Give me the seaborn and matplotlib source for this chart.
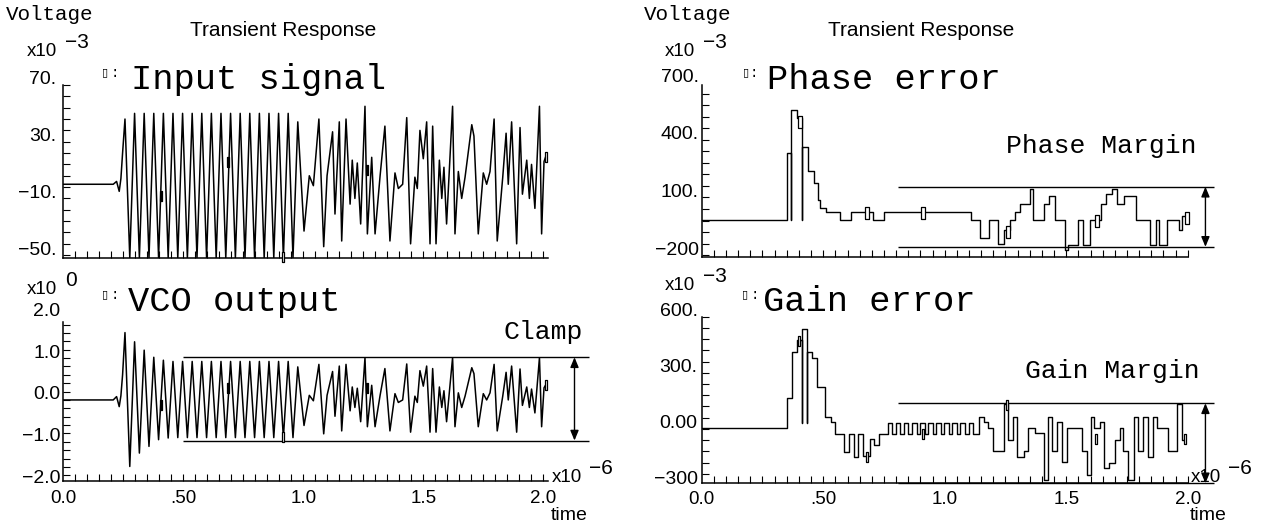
import matplotlib
matplotlib.use("Agg")
import matplotlib.pyplot as plt
import numpy as np
import seaborn as sns

# ---------------------------------------------------------------
# Values. Time in microseconds.
# ---------------------------------------------------------------

# flat part before the loop starts
lead_t = [0.0, 0.208, 0.222, 0.233, 0.240, 0.247]
input_lead = [0, 0, 2, -5, 4, 22]                  # x1e-3 V
vco_lead = [0.0, 0.0, 0.08, -0.16, 0.10, 0.60]     # V

# regular oscillation, alternating peak / trough
osc_t = [0.257, 0.277, 0.297, 0.317, 0.337, 0.357, 0.377, 0.397, 0.417, 0.437,
         0.457, 0.477, 0.497, 0.517, 0.537, 0.557, 0.577, 0.597, 0.617, 0.637,
         0.657, 0.677, 0.697, 0.717, 0.737, 0.757, 0.777, 0.797, 0.817, 0.837,
         0.857, 0.877, 0.897, 0.917, 0.937, 0.957, 0.977]
input_osc = [46, -52, 50, -52, 50, -52, 50, -52, 50, -52,
             50, -52, 50, -52, 50, -52, 50, -52, 50, -52,
             50, -52, 50, -52, 50, -52, 50, -52, 50, -52,
             50, -52, 50, -52, 50, -52, 44]
vco_osc = [1.61, -1.59, 1.39, -1.27, 1.19, -1.11, 1.02, -0.95, 0.95, -0.91,
           0.92, -0.90, 0.92, -0.90, 0.92, -0.90, 0.92, -0.90, 0.92, -0.90,
           0.92, -0.90, 0.92, -0.90, 0.92, -0.90, 0.92, -0.90, 0.92, -0.90,
           0.92, -0.90, 0.92, -0.90, 0.92, -0.90, 0.79]

# irregular part (extremes)
tail_t = [1.003, 1.025, 1.042, 1.065, 1.085, 1.099, 1.122, 1.132, 1.150, 1.160,
          1.178, 1.195, 1.204, 1.215, 1.225, 1.239, 1.257, 1.267, 1.285, 1.299,
          1.320, 1.340, 1.361, 1.382, 1.396, 1.414, 1.431, 1.447, 1.465, 1.475,
          1.486, 1.500, 1.514, 1.528, 1.539, 1.553, 1.567, 1.577, 1.586, 1.597,
          1.622, 1.632, 1.646, 1.660, 1.674, 1.702, 1.711, 1.729, 1.750, 1.764,
          1.778, 1.795, 1.808, 1.831, 1.845, 1.854, 1.868, 1.889, 1.903, 1.913,
          1.931, 1.942, 1.951, 1.965, 1.984, 1.993, 2.003, 2.011]
input_tail = [-33, 6, -1, 46, -44, 6, 37, -21, 44, -40,
              46, -14, 17, -10, 15, -28, 55, -35, 19, -35,
              6, 41, -40, 8, -3, 0, 47, -42, 5, -3,
              38, 18, 44, -42, 41, -42, 17, -10, 12, -28,
              55, -35, 9, -10, 5, 42, 34, -35, 8, 0,
              9, 46, -40, 5, 36, 0, 44, -42, 40, -7,
              17, -10, 14, -17, 55, -35, 16, 20]
vco_tail = [-0.61, 0.11, -0.02, 0.85, -0.81, 0.11, 0.68, -0.39, 0.81, -0.74,
            0.85, -0.26, 0.31, -0.18, 0.28, -0.52, 1.01, -0.64, 0.35, -0.64,
            0.11, 0.75, -0.74, 0.15, -0.06, 0.00, 0.86, -0.77, 0.09, -0.06,
            0.70, 0.33, 0.81, -0.77, 0.75, -0.77, 0.31, -0.18, 0.22, -0.52,
            1.01, -0.64, 0.17, -0.18, 0.09, 0.77, 0.63, -0.64, 0.15, 0.00,
            0.17, 0.85, -0.74, 0.09, 0.66, 0.00, 0.81, -0.77, 0.74, -0.13,
            0.31, -0.18, 0.26, -0.31, 1.01, -0.64, 0.29, 0.37]

# trace markers
input_mark_fill = ([0.406, 0.685, 1.264], [-8, 16, 10])
input_mark_open = ([0.915, 2.011], [-51, 19])
vco_mark_fill = ([0.406, 0.685, 1.264], [-0.12, 0.29, 0.29])
vco_mark_open = ([0.917, 2.011], [-0.88, 0.36])

# phase error, step levels (x1e-3), each level starts at phase_t
phase_t = [0.0, 0.349, 0.369, 0.369, 0.391, 0.411, 0.411, 0.436, 0.462, 0.478,
           0.487, 0.512, 0.571, 0.613, 0.705, 0.752, 1.108, 1.145, 1.183, 1.220,
           1.245, 1.267, 1.289, 1.309, 1.351, 1.365, 1.410, 1.430, 1.452, 1.494,
           1.507, 1.548, 1.569, 1.598, 1.645, 1.665, 1.687, 1.709, 1.737, 1.788,
           1.846, 1.871, 1.880, 1.913, 1.964, 1.977, 1.997]
phase_v = [-18, 333, -18, 556, 512, -18, 364, 239, 173, 87,
           43, 22, -18, 22, -18, 22, -18, -113, -18, -143,
           -70, -18, 22, 66, 142, -18, 66, 107, -18, -174,
           -148, -18, -148, -18, 66, 116, 142, 66, 107, -18,
           -148, -18, -148, -18, -70, 3, 3]
phase_mark = ([0.403, 0.680, 0.911, 1.259, 1.625, 1.997], [495, 17, 17, -78, -21, -9])

# gain error, step levels (x1e-3)
gain_t = [0.0, 0.350, 0.370, 0.391, 0.411, 0.411, 0.432, 0.432, 0.453, 0.473,
          0.507, 0.532, 0.549, 0.587, 0.606, 0.627, 0.644, 0.665, 0.692, 0.710,
          0.731,
          0.768, 0.785, 0.801, 0.818, 0.834, 0.851, 0.867, 0.884, 0.900, 0.917,
          0.933, 0.950, 0.966, 0.983, 0.999, 1.016, 1.032, 1.049, 1.065, 1.082,
          1.098, 1.115,
          1.142, 1.162, 1.180, 1.200, 1.244, 1.262, 1.280, 1.299, 1.326, 1.344,
          1.371, 1.409, 1.426, 1.440, 1.463, 1.481, 1.502, 1.563, 1.584, 1.601,
          1.614, 1.639, 1.657, 1.677, 1.701, 1.721, 1.735, 1.756, 1.779, 1.797,
          1.817, 1.838, 1.858, 1.875, 1.920, 1.957, 1.975, 1.989]
gain_v = [7, 164, 413, 475, 30, 532, 30, 413, 377, 226,
          66, 39, -27, -122, -27, -148, -27, -145, -56, -86,
          -27,
          30, -25, 30, -25, 30, -25, 30, -25, 30, -25,
          30, -25, 30, -25, 30, -25, 30, -25, 30, -25,
          30, -25,
          62, 39, 3, -116, 133, -59, 62, -148, -116, 3,
          -24, -273, 62, -116, 39, -175, 3, -116, -246, 62,
          3, 39, -211, -180, -59, 3, -116, -273, 62, -116,
          62, -148, 62, 3, -116, 133, -59, -59]
gain_mark = ([0.402, 0.679, 0.912, 1.255, 1.621, 1.989], [472, -149, -27, 128, -56, -56])

# limit bands: (start, end, upper, lower, arrow position)
clamp = (0.50, 2.19, 1.02, -0.97, 2.13)
phase_margin = (0.809, 2.11, 156, -157, 2.073)
gain_margin = (0.809, 2.11, 137, -291, 2.073)

# ---------------------------------------------------------------

W, H = 1265, 531
MONO = "Liberation Mono"
SANS = "Liberation Sans"
RECT = [(-0.3, -1), (0.3, -1), (0.3, 1), (-0.3, 1), (-0.3, -1)]

sns.set_style("ticks")
plt.rcParams["font.family"] = [SANS, "DejaVu Sans"]
plt.rcParams.update({"text.color": "black", "axes.edgecolor": "black",
                     "xtick.color": "black", "ytick.color": "black"})


def rect(left, top, right, bottom):
    return [left / W, 1 - bottom / H, (right - left) / W, (bottom - top) / H]


def ftext(fig, x, y, s, **kw):
    fig.text(x / W, 1 - y / H, s, color="black", **kw)


def style_axes(ax, xlim, ylim, yticks):
    ax.set_xlim(*xlim)
    ax.set_ylim(*ylim)
    for side in ["top", "right"]:
        ax.spines[side].set_visible(False)
    for side in ["left", "bottom"]:
        ax.spines[side].set_linewidth(1.1)
        ax.spines[side].set_color("black")
    ax.set_xticks(np.arange(0.05, 2.001, 0.05))
    ax.set_yticks(yticks)
    ax.tick_params(direction="in", length=5, width=0.8, color="black",
                   labelbottom=False, labelleft=False)
    ax.set_xlabel("")
    ax.set_ylabel("")
    ax.patch.set_alpha(0)


def ylabels(ax, vals, texts, dx):
    for v, s in zip(vals, texts):
        ax.annotate(s, xy=(0, v), xycoords=("axes fraction", "data"),
                    xytext=(dx, 5), textcoords="offset pixels",
                    ha="right", va="center", fontsize=14, family=SANS,
                    color="black", annotation_clip=False)


def xlabels(ax, dy):
    for t, s in zip([0.0, 0.5, 1.0, 1.5, 2.0], ["0.0", ".50", "1.0", "1.5", "2.0"]):
        ax.annotate(s, xy=(t, 0), xycoords=("data", "axes fraction"),
                    xytext=(0, dy), textcoords="offset pixels",
                    ha="center", va="center", fontsize=13.5, family=SANS,
                    color="black", annotation_clip=False)


def band(ax, spec):
    t0, t1, hi, lo, ta = spec
    ax.hlines([hi, lo], t0, t1, colors="black", lw=1.0, clip_on=False)
    ax.annotate("", xy=(ta, hi), xytext=(ta, lo), xycoords="data",
                arrowprops=dict(arrowstyle="<|-|>,head_length=0.6,head_width=0.25",
                                color="black", lw=1.0, shrinkA=0, shrinkB=0),
                annotation_clip=False)


def marks(ax, pts, filled, ms=7):
    ax.plot(pts[0], pts[1], linestyle="none", marker=RECT, ms=ms,
            mfc="black" if filled else "white", mec="black", mew=0.9,
            clip_on=False, zorder=5)


fig = plt.figure(figsize=(W / 100, H / 100), dpi=100)
fig.patch.set_facecolor("white")

ax_in = fig.add_axes(rect(63.3, 85, 548.1, 258))
ax_vco = fig.add_axes(rect(63.3, 321.7, 548.1, 480.7))
ax_ph = fig.add_axes(rect(701.7, 85, 1187.7, 257))
ax_gn = fig.add_axes(rect(701.7, 316.7, 1187.7, 483.3))

# traces
sns.lineplot(x=lead_t + osc_t + tail_t, y=input_lead + input_osc + input_tail,
             ax=ax_in, color="black", lw=1.1, sort=False, estimator=None)
sns.lineplot(x=lead_t + osc_t + tail_t, y=vco_lead + vco_osc + vco_tail,
             ax=ax_vco, color="black", lw=1.1, sort=False, estimator=None)
sns.lineplot(x=phase_t, y=phase_v, ax=ax_ph, color="black", lw=1.0,
             sort=False, estimator=None, drawstyle="steps-post")
sns.lineplot(x=gain_t, y=gain_v, ax=ax_gn, color="black", lw=1.0,
             sort=False, estimator=None, drawstyle="steps-post")

style_axes(ax_in, (0, 2.02), (-52, 70), np.arange(-50, 71, 8))
style_axes(ax_vco, (0, 2.02), (-1.93, 1.87), np.arange(-1.8, 1.81, 0.2))
style_axes(ax_ph, (0, 2.0), (-210, 686), np.arange(-200, 686, 60))
style_axes(ax_gn, (0, 2.0), (-291, 600), np.arange(-240, 601, 60))

marks(ax_in, input_mark_fill, True)
marks(ax_in, input_mark_open, False)
marks(ax_vco, vco_mark_fill, True)
marks(ax_vco, vco_mark_open, False)
marks(ax_ph, phase_mark, False, ms=9)
marks(ax_gn, gain_mark, False, ms=7)

band(ax_vco, clamp)
band(ax_ph, phase_margin)
band(ax_gn, gain_margin)

ylabels(ax_in, [70, 30, -10, -50], ["70.", "30.", "\u221210.", "\u221250."], -7)
ylabels(ax_vco, [2, 1, 0, -1, -2], ["2.0", "1.0", "0.0", "\u22121.0", "\u22122.0"], -3)
ylabels(ax_ph, [700, 400, 100, -200], ["700.", "400.", "100.", "\u2212200"], -3)
ylabels(ax_gn, [600, 300, 0, -300], ["600.", "300.", "0.00", "\u2212300"], -4)
xlabels(ax_vco, -18)
xlabels(ax_gn, -16)

# headers
for dx in (0, 638):
    ftext(fig, 6 + dx, 14, "Voltage", family=MONO, fontsize=15, va="center")
    ftext(fig, 283 + dx, 30, "Transient Response", family=SANS, fontsize=15,
          ha="center", va="center")

# axis multipliers
for x0, y0, expo in [(27, 52, "\u22123"), (27, 289, "0"), (665, 52, "\u22123"), (665, 285, "\u22123")]:
    ftext(fig, x0, y0, "x10", family=SANS, fontsize=13.5, va="center")
    ftext(fig, x0 + 38, y0 - 9, expo, family=SANS, fontsize=15, va="center")
for x0 in (552, 1191):
    ftext(fig, x0, 478, "x10", family=SANS, fontsize=13.5, va="center")
    ftext(fig, x0 + 37, 469, "\u22126", family=SANS, fontsize=15, va="center")
    ftext(fig, x0 + 17, 516, "time", family=SANS, fontsize=14, ha="center", va="center")

# trace titles
for bx, cx, tx, yb, title in [(105, 115, 131, 89, "Input signal"),
                              (105, 115, 128, 311, "VCO output"),
                              (746, 754, 767, 89, "Phase error"),
                              (745, 755, 763, 311, "Gain error")]:
    ftext(fig, bx, yb - 17, "\u25af", family="DejaVu Sans", fontsize=8,
          ha="center", va="center")
    ftext(fig, cx, yb - 16, ":", family=MONO, fontsize=10, ha="center", va="center")
    ftext(fig, tx, yb, title, family=MONO, fontsize=25.5, va="baseline")

# band captions
ftext(fig, 583, 332, "Clamp", family=MONO, fontsize=19, ha="right", va="center")
ftext(fig, 1197, 146, "Phase Margin", family=MONO, fontsize=19, ha="right", va="center")
ftext(fig, 1200, 371, "Gain Margin", family=MONO, fontsize=19, ha="right", va="center")

fig.savefig("out.png", dpi=100, facecolor="white")
